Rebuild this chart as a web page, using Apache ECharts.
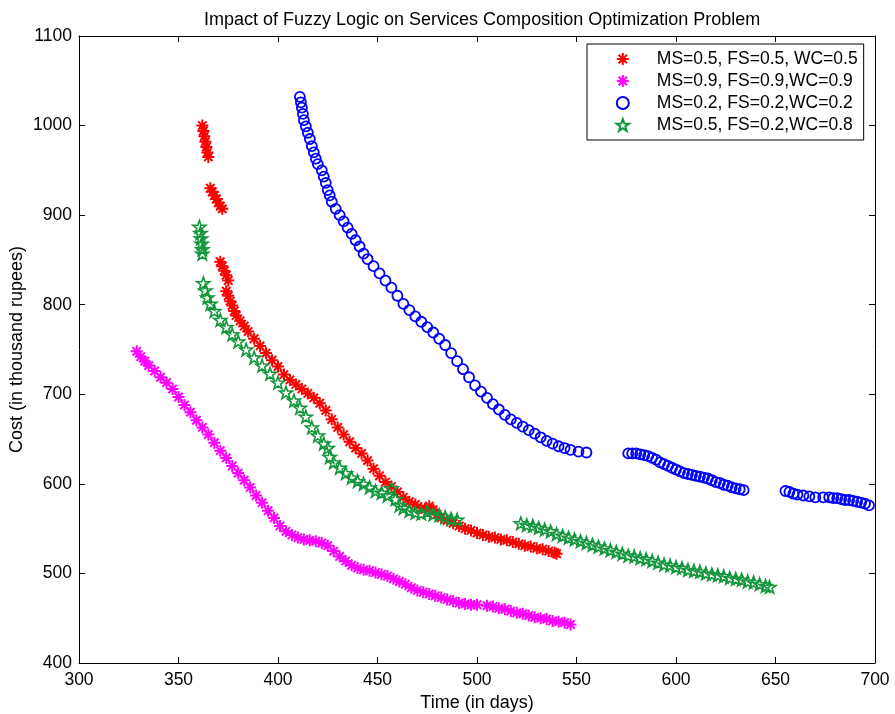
<!DOCTYPE html>
<html>
<head>
<meta charset="utf-8">
<script src="https://cdn.jsdelivr.net/npm/echarts@6/dist/echarts.min.js"></script>
<style>
  html, body { margin: 0; padding: 0; background: #fff; }
  #main { width: 895px; height: 714px; }
</style>
</head>
<body>
<div id="main"></div>
<script>
// [time (days), cost (thousand rupees)]
var redPts = [
    [362,1000],[362.5,994],[363,988],[363.5,982],[364,976],[364.5,970],[365,965],
    [366,930],[367,926],[368,922],[369,918],[370,914],[371,910],[372,907],
    [371,848],[372,843],[373,838],[374,833],[375,827],
    [374,815],[375,810],[376,804],[377,799],[378,793],[379,788],[381,782],[383,776],[385,770],
    [388,762],[391,754],[394,746],[397,738],[400,731],[403,722],[406,716],[409,711],[412,706],
    [415,701],[418,696],[421,690],[424,682],[427,672],[430,663],[433,655],[436,647],[439,640],
    [442,634],[445,626],[448,617],[451,609],[454,602],[457,597],[460,591],[463,585],[466,580],
    [469,577],[472,573],[474,572],[476,575],[478,571],[480,566],[482,562],[485,559],[488,556],
    [491,553],[494,550],[497,548],[500,545],[503,543],[506,541],[509,540],[512,538],[515,537],
    [518,535],[521,533],[524,531],[527,530],[530,528],[533,527],[536,525],[539,523],[540,522]
];
var magentaPts = [
    [329,748],[331,742],[333,737],[335,732],[338,726],[341,719],[344,713],[347,706],[350,697],
    [353,688],[356,680],[359,671],[362,663],[365,655],[368,646],[371,637],[374,629],[377,620],
    [380,612],[383,604],[386,596],[389,587],[392,579],[395,570],[398,562],[401,553],[404,547],
    [407,543],[410,540],[413,538],[416,537],[419,536],[422,534],[425,531],[428,525],[431,519],
    [434,514],[437,509],[440,506],[443,504],[446,503],[449,501],[452,499],[455,497],[458,494],
    [461,491],[464,488],[467,484],[470,481],[473,479],[476,477],[479,475],[482,473],[485,471],
    [488,469],[491,467],[494,466],[497,465],[500,465],[505,464],[508,463],[511,461],[514,460],
    [517,458],[520,456],[523,455],[526,453],[529,451],[532,450],[535,449],[538,447],[541,446],
    [544,445],[547,443]
];
var bluePts = [
    [411,1032],[411.5,1026],[412,1020],[412.5,1013],[413,1006],[414,999],[415,992],[416,985],
    [417,977],[418,970],[419,963],[420,957],[422,950],[423,943],[424,936],[425,928],[426,922],
    [427,915],[429,907],[431,900],[433,893],[435,886],[437,879],[439,872],[441,865],[443,857],
    [445,851],[448,843],[451,835],[454,827],[457,819],[460,810],[463,801],[466,794],[469,787],
    [472,781],[475,775],[478,769],[481,762],[484,755],[487,746],[490,737],[493,728],[496,719],
    [499,710],[502,703],[505,696],[508,689],[511,683],[514,677],[517,672],[520,668],[523,664],
    [526,660],[529,656],[532,652],[535,648],[538,645],[541,642],[544,640],[547,638],[551,636],
    [555,635],
    [576,634],[578,634],[580,634],[582,633],[584,632],[586,631],[588,629],[590,627],[592,624],
    [594,622],[596,620],[598,618],[600,616],[602,614],[604,612],[606,611],[608,610],[610,609],
    [612,608],[614,607],[616,606],[618,604],[620,602],[622,601],[624,599],[626,598],[628,596],
    [630,595],[632,594],[634,593],
    [655,592],[657,591],[659,589],[661,588],[664,587],[667,586],[670,585],
    [674,585],[677,585],[679,584],[681,584],[683,583],[685,582],[687,582],[689,581],[691,580],
    [693,579],[695,578],[697,576]
];
var greenPts = [
    [360.5,887],[361,880],[361.3,874],[361.6,868],[362,862],[362,857],
    [362.5,824],[363.5,816],[364.5,808],[366,801],[368,793],[371,783],[374,775],[377,767],
    [380,759],[384,750],[388,741],[392,732],[396,723],[400,713],[404,702],[408,693],[411,685],
    [414,675],[417,663],[420,654],[423,645],[425,640],[426,630],[428,624],[431,618],[434,612],
    [437,607],[440,603],[443,600],[446,596],[449,592],[452,590],[455,587],[457,595],[459,583],
    [461,576],[463,573],[466,570],[469,568],[472,567],[475,569],[478,566],[481,565],[484,563],
    [487,561],[490,560],
    [522,556],[525,554],[528,553],[531,551],[534,549],[537,547],[540,544],[543,542],[546,540],
    [549,538],[552,536],[555,534],[558,532],[561,530],[564,528],[567,526],[570,524],[573,522],
    [576,520],
    [579,519],[582,517],[585,516],[588,514],[591,512],[594,510],[597,509],[600,507],[603,506],
    [606,504],[609,503],[612,502],[615,500],[618,499],[621,498],[624,497],[627,495],[630,494],
    [633,493],[636,491],[639,490],[642,488],[645,486],[647,485]
];
var seriesNames = [
    'MS=0.5, FS=0.5, WC=0.5',
    'MS=0.9, FS=0.9,WC=0.9',
    'MS=0.2, FS=0.2,WC=0.2',
    'MS=0.5, FS=0.2,WC=0.8'
];

var FONT = 'Liberation Sans, Arial, Helvetica, sans-serif';
var asterisk = 'path://M0,-10L0,10M-10,0L10,0M-7,-7L7,7M-7,7L7,-7';
var star = 'path://M0,-10L2.35,-3.24L9.51,-3.09L3.8,1.24L5.88,8.09L0,4L-5.88,8.09L-3.8,1.24L-9.51,-3.09L-2.35,-3.24Z';

function scatter(name, data, symbol, size, color, bw) {
    return {
        name: name,
        type: 'scatter',
        data: data,
        symbol: symbol,
        symbolSize: size,
        symbolKeepAspect: true,
        xAxisIndex: 0,
        yAxisIndex: 0,
        itemStyle: { color: 'none', borderColor: color, borderWidth: bw, opacity: 1 },
        emphasis: { disabled: true }
    };
}

var chart = echarts.init(document.getElementById('main'));
var tick = { show: true, inside: true, length: 6, lineStyle: { color: '#000' } };
var line = { show: true, lineStyle: { color: '#000', width: 1 } };
var plain = function (v) { return String(v); };

chart.setOption({
    animation: false,
    backgroundColor: '#fff',
    title: {
        text: 'Impact of Fuzzy Logic on Services Composition Optimization Problem',
        left: 199, top: 6,
        textStyle: { fontFamily: FONT, fontSize: 18, fontWeight: 'normal', color: '#000' }
    },
    legend: {
        orient: 'vertical',
        left: 587, top: 44,
        padding: [6, 6, 6, 27],
        itemWidth: 58, itemHeight: 12, itemGap: 4,
        borderColor: '#000', borderWidth: 1, borderRadius: 0,
        backgroundColor: '#fff',
        textStyle: { fontFamily: FONT, fontSize: 17.5, color: '#000' },
        data: seriesNames
    },
    grid: { left: 79, right: 20, top: 36, bottom: 51, outerBoundsMode: 'none', containLabel: false },
    xAxis: [{
        type: 'value', min: 300, max: 700, interval: 50,
        name: 'Time (in days)', nameLocation: 'middle', nameGap: 17,
        nameTextStyle: { fontFamily: FONT, fontSize: 18, color: '#000' },
        axisLine: line, axisTick: tick, splitLine: { show: false },
        axisLabel: { fontFamily: FONT, fontSize: 17.5, color: '#000', margin: 8, formatter: plain }
    }, {
        type: 'value', min: 300, max: 700, interval: 50, position: 'top',
        axisLine: line, axisTick: tick, splitLine: { show: false },
        axisLabel: { show: false }
    }],
    yAxis: [{
        type: 'value', min: 400, max: 1100, interval: 100,
        name: 'Cost (in thousand rupees)', nameLocation: 'middle', nameGap: 53, nameMoveOverlap: false,
        nameTextStyle: { fontFamily: FONT, fontSize: 18, color: '#000' },
        axisLine: line, axisTick: tick, splitLine: { show: false },
        axisLabel: { fontFamily: FONT, fontSize: 17.5, color: '#000', margin: 7, formatter: plain }
    }, {
        type: 'value', min: 400, max: 1100, interval: 100, position: 'right',
        axisLine: line, axisTick: tick, splitLine: { show: false },
        axisLabel: { show: false }
    }],
    series: [
        scatter(seriesNames[0], redPts, asterisk, 12, '#ff0000', 2),
        scatter(seriesNames[1], magentaPts, asterisk, 12, '#ff00ff', 2),
        scatter(seriesNames[2], bluePts, 'circle', 10, '#0000ff', 1.8),
        scatter(seriesNames[3], greenPts, star, 13, '#12963a', 1.6)
    ]
});
window.addEventListener('resize', function () { chart.resize(); });
</script>
</body>
</html>
